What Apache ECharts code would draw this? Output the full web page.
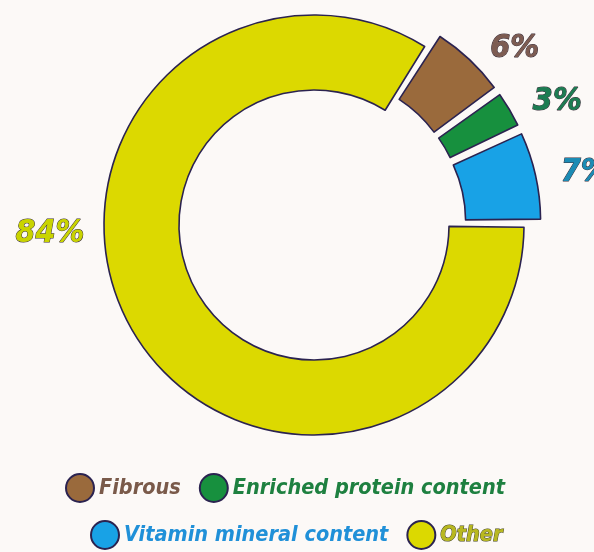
<!DOCTYPE html>
<html>
<head>
<meta charset="utf-8">
<script src="https://cdn.jsdelivr.net/npm/echarts@6/dist/echarts.min.js"></script>
<style>
  html, body { margin: 0; padding: 0; background: #fcf9f7; }
  #main { width: 594px; height: 552px; }
</style>
</head>
<body>
<div id="main"></div>
<script>
// 数据（顺时针，从3点钟方向开始）
var names = ['Other', 'Fibrous', 'Enriched protein content', 'Vitamin mineral content'];
var values = [84, 6, 3, 7];
var colors = ['#dcd900', '#9a6a3c', '#17903e', '#18a2e6'];
var labelColors = ['#c9d400', '#7d5c52', '#1d7c52', '#1b8bb4'];
var exploded = [false, true, true, true];
// 图例（两行）
var legendRow1 = ['Fibrous', 'Enriched protein content'];
var legendRow2 = ['Vitamin mineral content', 'Other'];
var legendColors = {
    'Fibrous': '#7a5a4a',
    'Enriched protein content': '#1e8040',
    'Vitamin mineral content': '#2090d8',
    'Other': '#b8b820'
};
// 百分比标签位置（像素）
var labelPos = [[50, 234], [485, 26], [557, 93], [575, 172]];

var fontFam = "'DejaVu Sans Condensed', 'Liberation Sans Narrow', 'DejaVu Sans', sans-serif";

var myChart = echarts.init(document.getElementById('main'));

var pieData = [];
for (var i = 0; i < names.length; i++) {
    pieData.push({
        name: names[i],
        value: values[i],
        selected: exploded[i],
        itemStyle: { color: colors[i] },
        label: { color: labelColors[i] }
    });
}

function legendItems(row) {
    var arr = [];
    for (var j = 0; j < row.length; j++) {
        var ld = { name: row[j], textStyle: { color: legendColors[row[j]] } };
        if (row[j] == 'Other') {
            ld.textStyle.textBorderColor = '#4a4a2a';
            ld.textStyle.textBorderWidth = 1;
        }
        arr.push(ld);
    }
    return arr;
}

function makeLegend(row, left, top) {
    return {
        data: legendItems(row),
        left: left,
        top: top,
        padding: 0,
        orient: 'horizontal',
        icon: 'circle',
        itemWidth: 28,
        itemHeight: 28,
        itemGap: 18,
        selectedMode: false,
        textStyle: {
            fontFamily: fontFam,
            fontSize: 21.5,
            fontStyle: 'italic',
            fontWeight: 'bold'
        }
    };
}

var option = {
    backgroundColor: '#fcf9f7',
    animation: false,
    legend: [makeLegend(legendRow1, 65, 473), makeLegend(legendRow2, 90, 520)],
    series: [{
        type: 'pie',
        center: [314, 225],
        radius: [135, 210],
        startAngle: 0,
        clockwise: true,
        padAngle: 1.2,
        selectedMode: 'multiple',
        selectedOffset: 17,
        itemStyle: {
            borderColor: '#2b2350',
            borderWidth: 1.6
        },
        emphasis: { disabled: true },
        label: {
            show: true,
            position: 'outside',
            overflow: 'none',
            formatter: '{d}%',
            fontFamily: fontFam,
            fontSize: 32,
            fontStyle: 'italic',
            fontWeight: 'bold',
            textBorderColor: '#3a2e3a',
            textBorderWidth: 1
        },
        labelLine: { show: false },
        labelLayout: function (params) {
            var p = labelPos[params.dataIndex];
            return { x: p[0], y: p[1], align: 'center', verticalAlign: 'middle' };
        },
        data: pieData
    }]
};
myChart.setOption(option);
</script>
</body>
</html>
